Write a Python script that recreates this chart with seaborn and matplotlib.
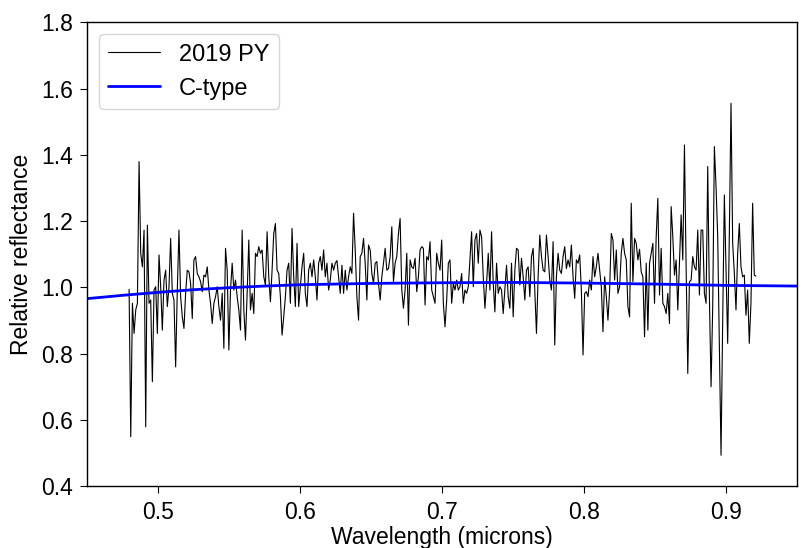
import numpy as np
import pandas as pd
import matplotlib
matplotlib.use("Agg")
import matplotlib.pyplot as plt
import seaborn as sns

# Reflectance of 2019 PY (left to right)
refl_part1 = [0.994, 0.549, 0.952, 0.861, 0.932, 0.952, 1.380, 1.103, 1.062, 1.173,
              0.579, 1.188, 0.952, 0.962, 0.715, 0.992, 1.002, 0.861, 1.098, 1.002,
              0.871, 1.022, 1.052, 0.942, 1.002, 1.148, 0.982, 0.962, 0.760, 0.992,
              1.173, 0.972, 0.911, 0.876, 0.982, 1.052, 1.047, 1.012, 0.906, 1.083,
              1.093, 1.042, 1.032, 1.017, 0.987, 1.037, 1.032, 1.062, 0.992, 0.952,
              0.891, 0.952, 0.972, 1.002, 0.942, 0.901, 0.982, 0.816, 1.118, 1.052,
              0.811, 0.992, 1.073]
refl_part2 = [0.992, 1.022, 0.972, 0.932, 0.871, 1.173, 0.932, 0.841, 0.982, 1.143,
              0.932, 0.982, 0.921, 1.103, 1.093, 1.123, 1.103, 1.113, 1.032, 1.007,
              1.168, 1.032, 0.957, 1.052, 1.163, 1.193, 1.052, 1.042, 0.972, 0.856,
              0.911, 0.972, 1.052, 1.073, 0.952, 1.178, 1.032, 0.942, 1.133, 0.942,
              1.002, 1.062, 1.103, 0.982, 0.942, 1.052, 1.073, 1.032, 1.083, 1.032,
              0.962, 1.073, 1.093, 1.052, 1.113, 1.032, 1.073, 0.992, 1.022, 1.073,
              1.052, 1.073, 1.081, 1.032, 0.982, 1.067, 0.982, 1.052]
refl_part3 = [0.992, 1.032, 1.062, 1.042, 1.224, 1.113, 0.972, 0.901, 1.093, 1.103,
              1.148, 1.073, 0.962, 1.128, 1.113, 1.042, 1.012, 1.073, 1.078, 1.012,
              0.962, 1.032, 1.073, 1.118, 1.052, 1.057, 1.093, 1.183, 1.017, 1.073,
              1.093, 1.163, 1.208, 0.992, 0.937, 0.992, 1.103, 0.886, 1.083, 1.062,
              1.057, 1.088, 0.987, 1.032, 1.113, 1.123, 1.118, 0.947, 1.093, 1.083,
              1.138, 0.992, 0.972, 0.952, 1.103, 1.073, 1.052, 1.143, 0.952, 0.881,
              0.962, 1.073, 1.083]
refl_part4 = [0.952, 1.012, 0.992, 1.022, 0.992, 1.002, 1.042, 0.952, 0.992, 0.982,
              1.002, 1.083, 1.168, 1.002, 1.143, 1.163, 1.073, 1.173, 1.153, 1.032,
              0.937, 1.012, 1.103, 0.992, 1.168, 1.012, 0.926, 1.073, 0.982, 1.002,
              0.992, 0.921, 0.992, 1.067, 0.972, 0.937, 1.073, 0.911, 1.052, 1.118,
              1.113, 1.007, 1.088, 1.032, 0.962, 1.052, 1.062, 0.972, 1.093, 1.118,
              0.992, 0.861, 1.032, 1.158, 1.093, 1.052, 1.047, 1.158, 1.093, 1.022,
              0.992, 1.138, 0.826]
refl_part5 = [1.032, 1.103, 1.052, 1.042, 1.093, 1.123, 1.057, 1.083, 1.062, 1.128,
              1.032, 0.967, 1.083, 1.073, 1.098, 0.992, 0.796, 0.982, 0.987, 0.972,
              1.022, 0.992, 1.093, 1.032, 1.062, 1.103, 1.052, 1.002, 0.866, 1.032,
              0.972, 0.901, 0.992, 1.163, 1.143, 1.022, 1.113, 0.982, 1.002, 1.103,
              1.148, 1.103, 1.083, 0.942, 0.911, 1.254, 1.017, 1.148, 1.133, 1.083,
              1.115, 1.047, 1.032, 0.851, 1.073, 0.871, 1.073, 1.103, 1.133, 0.952,
              1.153, 1.269, 0.977]
refl_part6 = [1.118, 0.952, 0.942, 0.921, 0.982, 0.891, 1.244, 1.153, 1.037, 1.083,
              0.932, 1.073, 1.219, 1.083, 1.430, 1.062, 0.740, 1.017, 1.022, 1.093,
              1.062, 1.052, 1.173, 0.977, 1.173, 1.173, 0.982, 0.952, 1.365, 0.972,
              0.700, 0.942, 1.425, 1.304, 1.153, 0.831, 0.493, 0.901, 1.279, 1.062,
              0.831, 1.163, 1.556, 1.133, 1.042, 0.932, 1.103, 1.193, 1.062, 1.032,
              1.037, 0.916, 0.992, 0.831, 0.952, 1.254, 1.037, 1.034]
reflectance = refl_part1 + refl_part2 + refl_part3 + refl_part4 + refl_part5 + refl_part6

# spectrum covers about 0.4796 - 0.921 microns, evenly sampled
wl_start, wl_end = 0.4796, 0.921
wavelength = np.linspace(wl_start, wl_end, len(reflectance))

# C-type template
ctype_wl = [0.45, 0.475, 0.50, 0.525, 0.55, 0.575, 0.60, 0.65, 0.70, 0.75, 0.80, 0.85, 0.90, 0.95]
ctype_refl = [0.966, 0.976, 0.985, 0.993, 0.999, 1.004, 1.008, 1.012, 1.014, 1.015, 1.013, 1.010, 1.006, 1.004]

spec = pd.DataFrame({"wavelength": wavelength, "reflectance": reflectance})
ctype = pd.DataFrame({"wavelength": ctype_wl, "reflectance": ctype_refl})

sns.set_style("ticks")
plt.rcParams["font.family"] = ["Liberation Sans", "DejaVu Sans"]
plt.rcParams["text.color"] = "black"
plt.rcParams["axes.labelcolor"] = "black"
plt.rcParams["xtick.color"] = "black"
plt.rcParams["ytick.color"] = "black"

fig = plt.figure(figsize=(8.06, 5.48), dpi=100)
ax = fig.add_axes([0.108, 0.113, 0.881, 0.846])

sns.lineplot(data=spec, x="wavelength", y="reflectance", color="black", lw=0.8,
             estimator=None, sort=False, label="2019 PY", ax=ax)
sns.lineplot(data=ctype, x="wavelength", y="reflectance", color="blue", lw=2,
             estimator=None, sort=False, label="C-type", ax=ax)

ax.set_xlim(0.45, 0.95)
ax.set_ylim(0.4, 1.8)
ax.set_xticks([0.5, 0.6, 0.7, 0.8, 0.9])
ax.set_yticks([0.4, 0.6, 0.8, 1.0, 1.2, 1.4, 1.6, 1.8])
ax.tick_params(labelsize=16.5, direction="out", length=5, pad=5)
ax.tick_params(axis="x", pad=6)
for s in ax.spines.values():
    s.set_color("black")
    s.set_linewidth(1)
ax.set_xlabel("Wavelength (microns)", fontsize=16.5, labelpad=1)
ax.set_ylabel("Relative reflectance", fontsize=16.5, labelpad=6)
ax.legend(loc="upper left", fontsize=17, handlelength=2.2, borderaxespad=0.5)

fig.savefig("out.png", dpi=100)
